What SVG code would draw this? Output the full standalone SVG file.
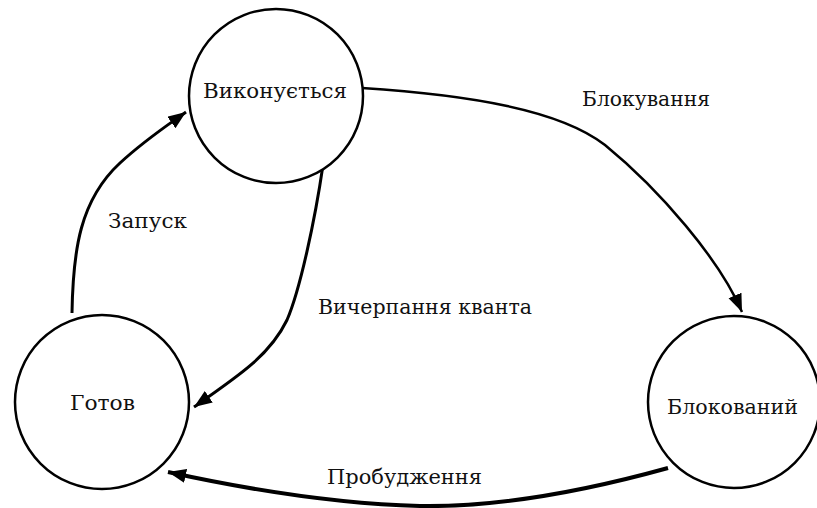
<svg xmlns="http://www.w3.org/2000/svg" width="817" height="508" viewBox="0 0 817 508">
<style>
.node{fill:#fff;stroke:#000;stroke-width:2.5}
.lbl{font-family:"DejaVu Serif","Liberation Serif",serif;font-size:20px;fill:#111}
.edge{fill:none;stroke:#000;stroke-width:3}
</style>
<defs>
<marker id="ah" markerUnits="userSpaceOnUse" markerWidth="20" markerHeight="16" refX="18" refY="7" orient="auto">
<path d="M0,0 L18,7 L0,14 z" fill="#000"/>
</marker>
</defs>
<rect width="817" height="508" fill="#fff"/>
<g id="connectors">
<path class="edge" d="M72,313 C73,250 80,200 120,163 C145,140 165,127 186,112" marker-end="url(#ah)"/>
<path class="edge" d="M323,165 C315,220 300,290 287,320 C270,355 240,375 194,407" marker-end="url(#ah)"/>
<path class="edge" style="stroke-width:2.5" d="M362,88 C470,95 560,110 605,145 C660,190 720,260 742,312" marker-end="url(#ah)"/>
<path class="edge" style="stroke-width:4" d="M668,468 C560,498 480,507 420,506 C340,504 250,490 168,472" marker-end="url(#ah)"/>
</g>
<g id="node-running">
<circle class="node" cx="276" cy="96" r="87"/>
<text class="lbl" x="203" y="98" textLength="144" lengthAdjust="spacingAndGlyphs">Виконується</text>
</g>
<g id="node-ready">
<circle class="node" cx="102" cy="402" r="87"/>
<text class="lbl" x="70" y="410" textLength="65" lengthAdjust="spacingAndGlyphs">Готов</text>
</g>
<g id="node-blocked">
<circle class="node" cx="734" cy="402" r="86"/>
<text class="lbl" x="667" y="414" textLength="131" lengthAdjust="spacingAndGlyphs">Блокований</text>
</g>
<g id="labels">
<text class="lbl" x="582" y="106" textLength="128" lengthAdjust="spacingAndGlyphs">Блокування</text>
<text class="lbl" x="108" y="228" textLength="79" lengthAdjust="spacingAndGlyphs">Запуск</text>
<text class="lbl" x="318" y="314" textLength="214" lengthAdjust="spacingAndGlyphs">Вичерпання кванта</text>
<text class="lbl" x="327" y="484" textLength="155" lengthAdjust="spacingAndGlyphs">Пробудження</text>
</g>
</svg>
